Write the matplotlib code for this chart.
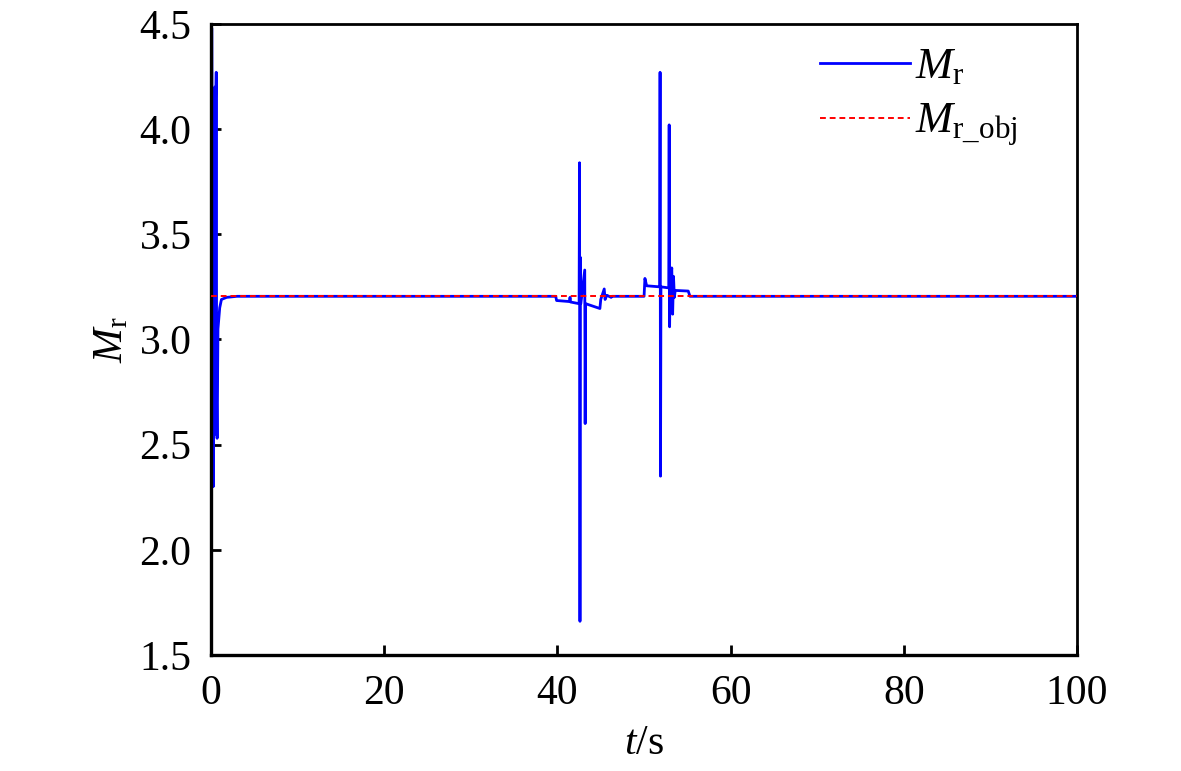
import numpy as np
import matplotlib
matplotlib.use("Agg")
import matplotlib.pyplot as plt

plt.rcParams["font.family"] = ["Liberation Serif", "DejaVu Serif"]
plt.rcParams["mathtext.fontset"] = "custom"
plt.rcParams["mathtext.rm"] = "Liberation Serif"
plt.rcParams["mathtext.it"] = "Liberation Serif:italic"

t_mr = [0.0, 0.08, 0.25, 0.32, 0.38, 0.44, 0.5, 0.56, 0.6, 0.65, 0.7, 0.8,
        0.9, 1.0, 1.2, 1.8, 3.0,
        39.8, 39.9, 41.4, 41.45, 41.5, 42.5, 42.55, 42.6, 42.65, 42.7,
        43.15, 43.2, 43.25, 44.9, 45.0, 45.4, 45.5, 45.7, 46.2, 46.3,
        50.0, 50.1, 50.3, 51.8, 51.85, 51.9, 51.95, 52.85, 52.9, 52.95, 53.0,
        53.2, 53.3, 53.4, 53.5, 53.6, 55.1, 55.3, 100.0]
mr = [1.5, 4.48, 2.3, 4.1, 2.6, 4.2, 2.55, 4.15, 4.27, 2.7, 2.53, 3.05,
      3.1, 3.15, 3.19, 3.2, 3.205,
      3.205, 3.185, 3.18, 3.2, 3.178, 3.17, 3.84, 1.66, 3.39, 3.17,
      3.33, 2.6, 3.17, 3.147, 3.19, 3.24, 3.19, 3.21, 3.2, 3.205,
      3.205, 3.29, 3.255, 3.25, 4.27, 2.35, 3.25, 3.245, 4.02, 3.06, 3.24,
      3.34, 3.12, 3.3, 3.2, 3.233, 3.23, 3.205, 3.205]

# target value
t_obj = [0.0, 100.0]
mr_obj = [3.205, 3.205]

fig = plt.figure(figsize=(11.81, 7.71), dpi=100)
ax = fig.add_axes([0.1787, 0.1505, 0.9120 - 0.1787, 0.969 - 0.1505])

ax.plot(t_mr, mr, color="#0000ff", lw=2.0, label=r"$M_{\rm r}$", zorder=2)
ax.plot(t_obj, mr_obj, color="#ff0000", lw=1.4, ls=(0, (3, 2)),
        label=r"$M_{\rm r\_obj}$", zorder=3)

ax.set_xlim(0, 100)
ax.set_ylim(1.5, 4.5)
ax.set_xticks([0, 20, 40, 60, 80, 100])
ax.set_yticks([1.5, 2.0, 2.5, 3.0, 3.5, 4.0, 4.5])
ax.set_yticklabels(["1.5", "2.0", "2.5", "3.0", "3.5", "4.0", "4.5"])
ax.tick_params(direction="in", length=7, width=2, labelsize=30,
               top=False, right=False, pad=14)
for s in ax.spines.values():
    s.set_linewidth(2)
ax.spines["left"].set_linewidth(2.4)
ax.spines["bottom"].set_linewidth(2.4)

ax.set_xlabel(r"$t$/s", fontsize=30, labelpad=8)
ax.set_ylabel(r"$M_{\rm r}$", fontsize=30, labelpad=6)

ax.legend(loc="upper left", bbox_to_anchor=(0.703, 0.963), frameon=False,
          fontsize=32, handlelength=2.03, handletextpad=0.12,
          labelspacing=0.32, borderaxespad=0.0, borderpad=0.0)

fig.savefig("out.png", dpi=100)
